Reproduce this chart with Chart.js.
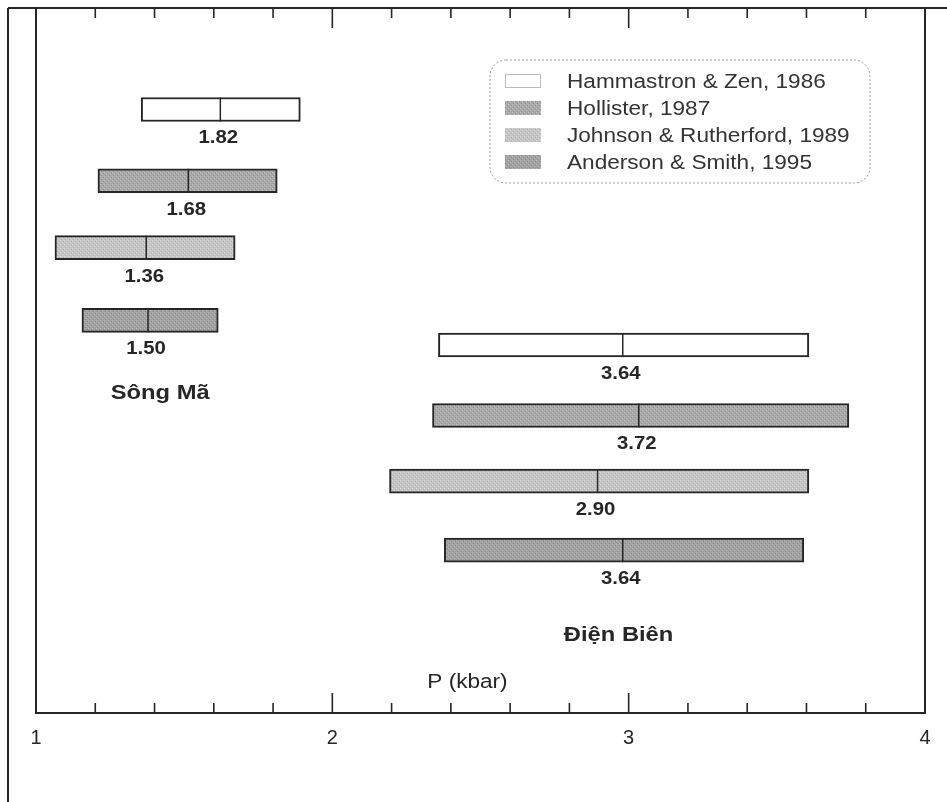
<!DOCTYPE html>
<html>
<head>
<meta charset="utf-8">
<script src="https://cdn.jsdelivr.net/npm/chart.js@4.4.0/dist/chart.umd.min.js"></script>
<style>
  html,body{margin:0;padding:0;background:#fff;}
  #wrap{width:947px;height:802px;position:relative;}
</style>
</head>
<body>
<div id="wrap"><canvas id="c" width="947" height="802"></canvas></div>
<script>
// methods (one dataset each)
const methods = ['Hammastron & Zen, 1986','Hollister, 1987','Johnson & Rutherford, 1989','Anderson & Smith, 1995'];
const sites = ['Sông Mã','Điện Biên'];

// Sông Mã ranges (kbar)
const smLow  = [1.355, 1.209, 1.064, 1.155];
const smHigh = [1.892, 1.814, 1.672, 1.615];
const smMid  = [1.622, 1.514, 1.372, 1.378];
const smText = ['1.82','1.68','1.36','1.50'];
const smRow  = [1.44, 2.45, 3.40, 4.43];

// Điện Biên ranges (kbar)
const dbLow  = [2.358, 2.338, 2.193, 2.378];
const dbHigh = [3.608, 3.743, 3.608, 3.591];
const dbMid  = [2.980, 3.034, 2.895, 2.980];
const dbText = ['3.64','3.72','2.90','3.64'];
const dbRow  = [4.78, 5.78, 6.71, 7.69];

// site name positions [x kbar, row]
const siteAt = [[1.419, 5.46], [2.966, 8.89]];
const axisTitle = 'P (kbar)';
const axisTitleAt = [2.456, 9.57];

const FONT = '"Liberation Sans", Arial, sans-serif';
const INK = '#262626';
const SX = 1.13; // scan is a bit wider than tall

// stippled grey fills like the scan
function stipple(base, light, dark){
  const t = document.createElement('canvas'); t.width = 4; t.height = 4;
  const g = t.getContext('2d');
  g.fillStyle = base; g.fillRect(0,0,4,4);
  g.fillStyle = light; g.fillRect(0,0,1,1); g.fillRect(2,2,1,1);
  g.fillStyle = dark; g.fillRect(1,3,1,1); g.fillRect(3,1,1,1);
  return document.getElementById('c').getContext('2d').createPattern(t,'repeat');
}
const fills = ['#ffffff', stipple('#a9a9a9','#c4c4c4','#8e8e8e'), stipple('#c6c6c6','#dadada','#aeaeae'), stipple('#a2a2a2','#bcbcbc','#888888')];

const datasets = methods.map((m,i)=>({
  label: m,
  data: [{x:[smLow[i], smHigh[i]], y:smRow[i]}, {x:[dbLow[i], dbHigh[i]], y:dbRow[i]}],
  mids: [smMid[i], dbMid[i]],
  texts: [smText[i], dbText[i]],
  backgroundColor: fills[i],
  borderColor: INK,
  borderWidth: 2,
  borderSkipped: false,
  barThickness: 24,
  grouped: false
}));

function wideText(c, s, x, y){
  c.save(); c.translate(x, y); c.scale(SX, 1); c.fillText(s, 0, 0); c.restore();
}

const decor = {
  id: 'decor',
  beforeDraw(chart){
    const c = chart.ctx;
    c.save(); c.fillStyle = '#fff'; c.fillRect(0,0,chart.width,chart.height); c.restore();
  },
  afterDatasetsDraw(chart){
    const c = chart.ctx, xs = chart.scales.x, ys = chart.scales.y, a = chart.chartArea;
    c.save();
    // median marks + value labels
    chart.data.datasets.forEach((ds,di)=>{
      const meta = chart.getDatasetMeta(di);
      meta.data.forEach((el,j)=>{
        const mx = xs.getPixelForValue(ds.mids[j]);
        c.strokeStyle = INK; c.lineWidth = 1.5;
        c.beginPath(); c.moveTo(mx, el.y - el.height/2); c.lineTo(mx, el.y + el.height/2); c.stroke();
        c.fillStyle = INK; c.font = 'bold 18px '+FONT; c.textAlign = 'center'; c.textBaseline = 'middle';
        wideText(c, ds.texts[j], mx - 2, el.y + 29);
      });
    });
    // site names
    c.font = 'bold 21px '+FONT; c.fillStyle = INK; c.textAlign = 'center'; c.textBaseline = 'middle';
    sites.forEach((s,i)=>wideText(c, s, xs.getPixelForValue(siteAt[i][0]), ys.getPixelForValue(siteAt[i][1])));
    c.font = '20px '+FONT;
    wideText(c, axisTitle, xs.getPixelForValue(axisTitleAt[0]), ys.getPixelForValue(axisTitleAt[1]));

    // plot frame + outer frame
    c.strokeStyle = INK; c.lineWidth = 2;
    c.beginPath();
    c.moveTo(a.left, a.top); c.lineTo(a.left, a.bottom); c.lineTo(a.right, a.bottom); c.lineTo(a.right, a.top);
    c.moveTo(8, a.top); c.lineTo(chart.width, a.top);
    c.moveTo(8, a.top); c.lineTo(8, chart.height);
    c.stroke();

    // inward ticks, top and bottom
    c.lineWidth = 1.6;
    xs.ticks.forEach(t=>{
      const px = xs.getPixelForValue(t.value);
      const major = Math.abs(t.value - Math.round(t.value)) < 1e-6;
      const len = major ? 20 : 10;
      c.beginPath();
      c.moveTo(px, a.bottom); c.lineTo(px, a.bottom - len);
      c.moveTo(px, a.top); c.lineTo(px, a.top + len);
      c.stroke();
    });

    // legend box
    const lx = 490, ly = 60, lw = 380, lh = 123;
    c.setLineDash([2,2]); c.strokeStyle = '#9a9a9a'; c.lineWidth = 1;
    c.beginPath(); c.roundRect(lx, ly, lw, lh, 16); c.stroke();
    c.setLineDash([]);
    c.font = '20px '+FONT; c.textAlign = 'left'; c.textBaseline = 'middle';
    chart.data.datasets.forEach((ds,i)=>{
      const ry = 81 + i*27;
      c.fillStyle = ds.backgroundColor; c.fillRect(505, ry-7, 36, 14);
      if (i===0){ c.setLineDash([1,1]); c.strokeStyle = '#777'; c.strokeRect(505.5, ry-6.5, 35, 13); c.setLineDash([]); }
      c.fillStyle = '#333'; wideText(c, ds.label, 567, ry+1);
    });
    c.restore();
  }
};

new Chart(document.getElementById('c'), {
  type: 'bar',
  data: { datasets },
  plugins: [decor],
  options: {
    responsive: false,
    animation: false,
    indexAxis: 'y',
    layout: { padding: { left: 36, right: 22, top: 8, bottom: 39 } },
    plugins: { legend: { display: false }, tooltip: { enabled: false } },
    scales: {
      x: {
        type: 'linear', min: 1, max: 4, position: 'bottom',
        grid: { display: false, drawTicks: false },
        border: { display: false },
        ticks: {
          stepSize: 0.2, autoSkip: false, maxRotation: 0, padding: 13,
          color: INK, font: { family: FONT, size: 20 },
          callback: v => Math.abs(v - Math.round(v)) < 1e-6 ? String(Math.round(v)) : ''
        }
      },
      y: { type: 'linear', min: 0, max: 10, reverse: true, offset: false, display: false }
    }
  }
});
</script>
</body>
</html>
